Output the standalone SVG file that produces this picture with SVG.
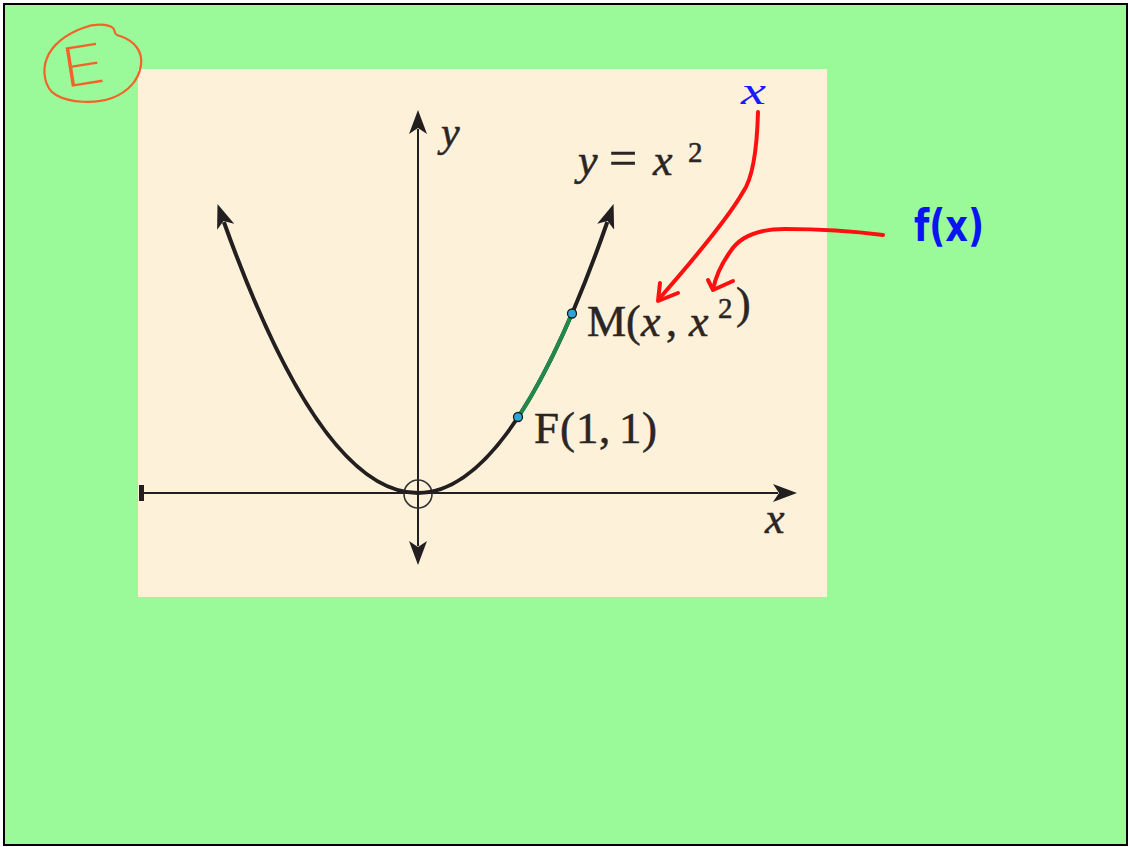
<svg xmlns="http://www.w3.org/2000/svg" width="1128" height="847" viewBox="0 0 1128 847">
<style>
.math{font-family:"Liberation Serif","Times New Roman",serif;fill:#2b2523;stroke:#2b2523;stroke-width:0.5}
.it{font-style:italic}
.ax{stroke:#231f20;stroke-width:2;fill:none}
.curve{stroke:#231f20;stroke-width:4;fill:none}
.red{stroke:#ff1010;stroke-width:4;fill:none;stroke-linecap:round;stroke-linejoin:round}
.pt{fill:#2aa6d9;stroke:#1a1a1a;stroke-width:1.3}
</style>
<defs>
<marker id="ah" markerUnits="userSpaceOnUse" viewBox="0 0 26 18" markerWidth="26" markerHeight="18" refX="5" refY="9" orient="auto-start-reverse">
<path d="M0,0 L24,9 L0,18 L6,9 z" fill="#231f20"/>
</marker>
<marker id="bar" markerUnits="userSpaceOnUse" viewBox="0 0 6 16" markerWidth="6" markerHeight="16" refX="1" refY="8" orient="auto">
<rect x="0" y="0" width="5" height="16" fill="#231f20"/>
</marker>
</defs>
<rect x="0" y="0" width="1128" height="847" fill="#ffffff"/>
<rect x="4" y="4" width="1123" height="841" fill="#9afa9a" stroke="#000" stroke-width="2"/>
<g id="picture">
<rect x="138" y="69" width="689" height="528" fill="#fdf1da"/>
</g>
<g id="axes">
<line class="ax" x1="140" y1="493" x2="778" y2="493" marker-start="url(#bar)" marker-end="url(#ah)"/>
<line class="ax" x1="418" y1="129" x2="418" y2="546" marker-start="url(#ah)" marker-end="url(#ah)"/>
<circle cx="418" cy="494" r="14" fill="none" stroke="#333" stroke-width="1.6"/>
<text class="math it" x="441" y="146" font-size="42">y</text>
<text class="math it" x="765" y="533" font-size="44">x</text>
</g>
<g id="parabola">
<path class="curve" d="M223.9,222 Q320.95,493 418,493 Q512.65,493 607.3,222" marker-start="url(#ah)" marker-end="url(#ah)"/>
<path d="M518,417.3 Q545,376.4 572,313.5" stroke="#1f8a4c" stroke-width="4" fill="none"/>
<text class="math" font-size="44" y="175"><tspan class="it" x="578">y</tspan><tspan x="609" font-size="50">=</tspan><tspan class="it" x="653">x</tspan><tspan x="688" y="162" font-size="29">2</tspan></text>
</g>
<g id="pointF">
<circle class="pt" cx="518" cy="417" r="4.5"/>
<text class="math" font-size="45" y="443"><tspan x="534">F</tspan><tspan x="560">(</tspan><tspan x="576">1</tspan><tspan x="599">,</tspan><tspan x="619">1</tspan><tspan x="642">)</tspan></text>
</g>
<g id="pointM">
<circle class="pt" cx="572" cy="313.5" r="4.5"/>
<text class="math" font-size="44" y="336"><tspan x="587">M</tspan><tspan x="626">(</tspan><tspan class="it" x="641">x</tspan><tspan x="666">,</tspan><tspan class="it" x="689">x</tspan><tspan x="718" y="318" font-size="29">2</tspan><tspan x="736">)</tspan></text>
</g>
<g id="note-x">
<text x="741" y="104" font-family="Liberation Serif, serif" font-style="italic" font-size="38" fill="#1a1aff" textLength="25" lengthAdjust="spacingAndGlyphs">x</text>
</g>
<g id="note-fx">
<text x="914" y="241" font-family="DejaVu Sans, sans-serif" font-weight="bold" font-size="44" fill="#0a14f0" textLength="70" lengthAdjust="spacingAndGlyphs">f(x)</text>
</g>
<g id="label-E">
<path d="M83,28 C95,23 108,24 113,28 C116,31 113,35 120,36 C135,41 143,52 141,65 C139,80 128,92 112,98 C95,104 70,103 56,95 C44,88 42,70 47,58 C52,45 66,34 83,28" fill="none" stroke="#f4622a" stroke-width="2.2"/>
<text x="0" y="0" transform="translate(64,88) rotate(-9) scale(1.45,1.05)" font-family="Inter, Lato, DejaVu Sans, sans-serif" font-weight="200" font-size="52" fill="#f4622a">E</text>
</g>
<g id="connectors">
<path class="red" d="M758,112 C757,150 753,178 743,192 C730,215 700,252 659,299"/>
<path class="red" d="M660,283 L658,301 L678,293"/>
<path class="red" d="M883,235 C860,232 820,229 785,229 C760,229 740,236 730,252 C722,263 716,276 713,289"/>
<path class="red" d="M708,280 L713,290 L733,281"/>
</g>
</svg>
